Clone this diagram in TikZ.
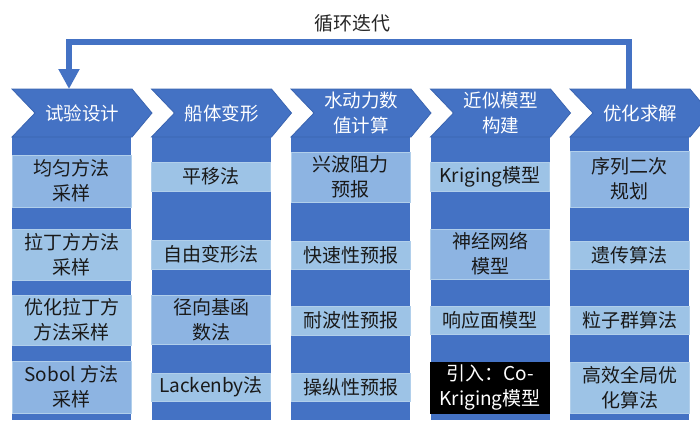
\documentclass[tikz,border=0pt]{standalone}
\usepackage{fontspec}
\setmainfont{Noto Sans CJK SC}
\usetikzlibrary{arrows.meta}
\definecolor{mainblue}{HTML}{4472C4}
\definecolor{edgeblue}{HTML}{3A64B0}
\definecolor{lightA}{HTML}{9DC3E6}
\definecolor{lightB}{HTML}{8DB4E2}
\definecolor{titlegray}{HTML}{262626}
\tikzset{
  colbar/.style={fill=mainblue, draw=none},
  chev/.style={fill=mainblue, draw=edgeblue, line width=0.8pt, line join=miter},
  htext/.style={text=white, font=\fontsize{18.5pt}{25pt}\selectfont, align=center, inner sep=0pt},
  lbox/.style={minimum width=119pt, inner sep=0pt, outer sep=0pt, align=center,
    font=\fontsize{19pt}{25pt}\selectfont, text=black!90, draw=lightA!80!white, line width=0.5pt},
  boxA/.style={lbox, fill=lightA},
  boxB/.style={lbox, fill=lightB},
  boxK/.style={lbox, fill=black, text=white, draw=black},
  loop/.style={draw=mainblue, line width=6pt, -{Triangle[width=20pt,length=20pt]}},
}
\newcommand{\chevshape}[1]{%
  \fill[colbar] (#1,137) rectangle ++(119,283);
  \draw[chev] (#1,89) -- ++(120,0) -- ++(20,24) -- ++(-20,24) -- ++(-120,0) -- ++(23,-24) -- cycle;
}
\begin{document}
\begin{tikzpicture}[x=1pt,y=-1pt]
\useasboundingbox (0,0) rectangle (700,421);
\fill[white] (0,0) rectangle (700,421);
% columns and chevrons
\chevshape{12}
\chevshape{151.5}
\chevshape{291}
\chevshape{430.5}
\chevshape{570}
% header texts
\node[htext] (h1) at (82,113) {试验设计};
\node[htext] (h2) at (221.5,113) {船体变形};
\node[htext] (h3) at (361,113) {水动力数\\值计算};
\node[htext] (h4) at (500.5,113) {近似模型\\构建};
\node[htext] (h5) at (640,113) {优化求解};
% column 1
\node[boxB, minimum height=52pt] (c1a) at (71.5,181) {均匀方法\\采样};
\node[boxA, minimum height=51pt] (c1b) at (71.5,254.5) {拉丁方方法\\采样};
\node[boxA, minimum height=50pt] (c1c) at (71.5,320) {优化拉丁方\\方法采样};
\node[boxB, minimum height=52pt] (c1d) at (71.5,387) {Sobol 方法\\采样};
% column 2
\node[boxA, minimum height=29pt] (c2a) at (211,176.5) {平移法};
\node[boxA, minimum height=29pt] (c2b) at (211,254.5) {自由变形法};
\node[boxB, minimum height=49pt] (c2c) at (211,319.5) {径向基函\\数法};
\node[boxA, minimum height=28pt] (c2d) at (211,387) {Lackenby法};
% column 3
\node[boxB, minimum height=50pt] (c3a) at (350.5,177) {兴波阻力\\预报};
\node[boxA, minimum height=28pt] (c3b) at (350.5,255) {快速性预报};
\node[boxA, minimum height=29pt] (c3c) at (350.5,320.5) {耐波性预报};
\node[boxA, minimum height=28pt] (c3d) at (350.5,387) {操纵性预报};
% column 4
\node[boxA, minimum height=29pt] (c4a) at (490,176.5) {Kriging模型};
\node[boxB, minimum height=50pt] (c4b) at (490,254) {神经网络\\模型};
\node[boxA, minimum height=28pt] (c4c) at (490,320) {响应面模型};
\node[boxK, minimum height=51pt] (c4d) at (490,387.5) {引入：Co-\\Kriging模型};
% column 5
\node[boxB, minimum height=56pt] (c5a) at (629.5,179) {序列二次\\规划};
\node[boxA, minimum height=28pt] (c5b) at (629.5,255) {遗传算法};
\node[boxA, minimum height=28pt] (c5c) at (629.5,320) {粒子群算法};
\node[boxA, minimum height=51pt] (c5d) at (629.5,387.5) {高效全局优\\化算法};
% loop arrow
\coordinate (loopR) at (629,89.5);
\coordinate (loopL) at (69,89);
\draw[loop] (loopR) -- (629,41.5) -| (loopL);
\node[text=titlegray, font=\fontsize{19pt}{22pt}\selectfont, inner sep=0pt] (title) at (352,23) {循环迭代};
\end{tikzpicture}
\end{document}
